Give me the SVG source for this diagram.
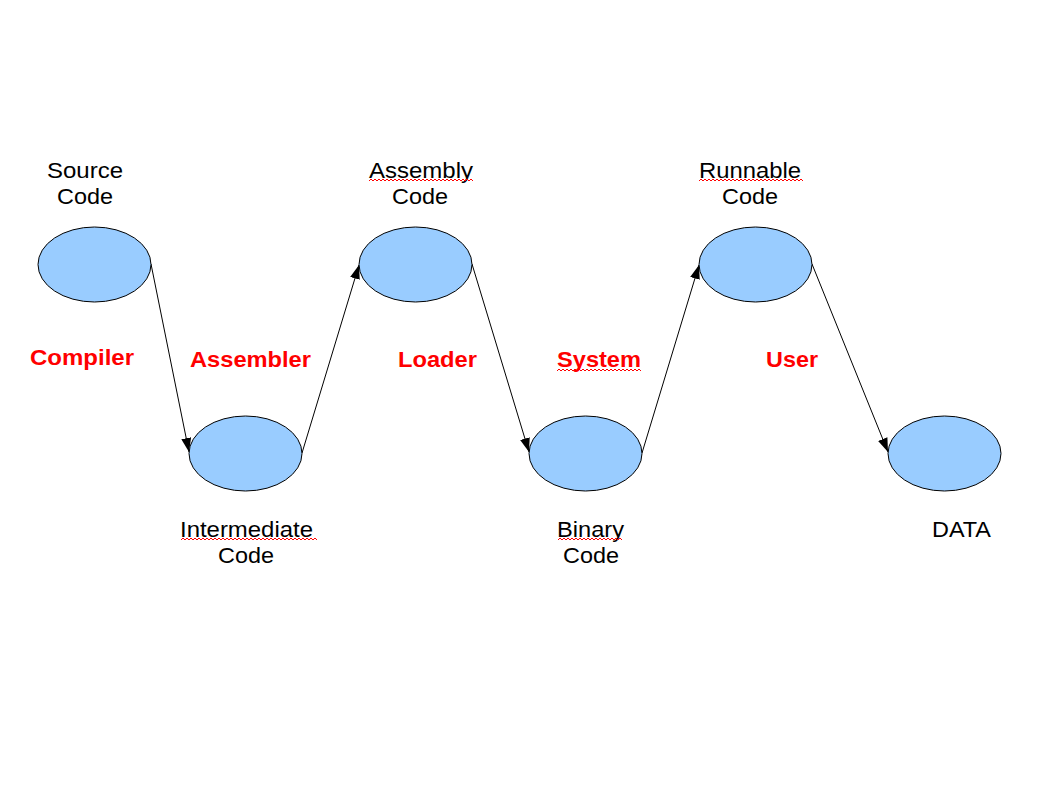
<svg xmlns="http://www.w3.org/2000/svg" width="1058" height="794" viewBox="0 0 1058 794">
<style>
.n{fill:#99ccff;stroke:#000;stroke-width:1}
.t{font-family:"Liberation Sans",Arial,sans-serif;font-size:22px;fill:#000;text-anchor:middle}
.r{font-family:"Liberation Sans",Arial,sans-serif;font-size:22px;font-weight:bold;fill:#ff0000;text-anchor:middle}
.c{stroke:#000;stroke-width:1;fill:none;marker-end:url(#a)}
.w{stroke:#ff0000;stroke-width:1;fill:none}
</style>
<defs>
<marker id="a" viewBox="0 0 14 10" refX="14" refY="5" markerWidth="14" markerHeight="10" markerUnits="userSpaceOnUse" orient="auto">
<path d="M0,0 L14,5 L0,10 Z" fill="#000"/>
</marker>
</defs>
<rect width="1058" height="794" fill="#fff"/>
<g id="connectors">
<line class="c" x1="151" y1="264" x2="189" y2="452"/>
<line class="c" x1="302" y1="453" x2="359" y2="265"/>
<line class="c" x1="472" y1="264" x2="529" y2="452"/>
<line class="c" x1="642" y1="453" x2="699" y2="265"/>
<line class="c" x1="812" y1="264" x2="888" y2="452"/>
</g>
<g id="source">
<ellipse class="n" cx="94.5" cy="264.5" rx="56.5" ry="37.5"/>
<text class="t" x="85" y="178" textLength="76" lengthAdjust="spacingAndGlyphs">Source</text>
<text class="t" x="85" y="204" textLength="56" lengthAdjust="spacingAndGlyphs">Code</text>
</g>
<g id="intermediate">
<ellipse class="n" cx="245.5" cy="453.5" rx="56.5" ry="37.5"/>
<text class="t" x="246.5" y="537" textLength="133" lengthAdjust="spacingAndGlyphs">Intermediate</text>
<text class="t" x="246" y="563" textLength="56" lengthAdjust="spacingAndGlyphs">Code</text>
<path class="w" d="M181,540 l2,-2 l2,2 l2,-2 l2,2 l2,-2 l2,2 l2,-2 l2,2 l2,-2 l2,2 l2,-2 l2,2 l2,-2 l2,2 l2,-2 l2,2 l2,-2 l2,2 l2,-2 l2,2 l2,-2 l2,2 l2,-2 l2,2 l2,-2 l2,2 l2,-2 l2,2 l2,-2 l2,2 l2,-2 l2,2 l2,-2 l2,2 l2,-2 l2,2 l2,-2 l2,2 l2,-2 l2,2 l2,-2 l2,2 l2,-2 l2,2 l2,-2 l2,2 l2,-2 l2,2 l2,-2 l2,2 l2,-2 l2,2 l2,-2 l2,2 l2,-2 l2,2 l2,-2 l2,2 l2,-2 l2,2 l2,-2 l2,2 l2,-2 l2,2 l2,-2 l2,2 l2,-2 l2,2"/>
</g>
<g id="assembly">
<ellipse class="n" cx="415.5" cy="264.5" rx="56.5" ry="37.5"/>
<text class="t" x="421" y="178" textLength="104" lengthAdjust="spacingAndGlyphs">Assembly</text>
<text class="t" x="420" y="204" textLength="56" lengthAdjust="spacingAndGlyphs">Code</text>
<path class="w" d="M369,181 l2,-2 l2,2 l2,-2 l2,2 l2,-2 l2,2 l2,-2 l2,2 l2,-2 l2,2 l2,-2 l2,2 l2,-2 l2,2 l2,-2 l2,2 l2,-2 l2,2 l2,-2 l2,2 l2,-2 l2,2 l2,-2 l2,2 l2,-2 l2,2 l2,-2 l2,2 l2,-2 l2,2 l2,-2 l2,2 l2,-2 l2,2 l2,-2 l2,2 l2,-2 l2,2 l2,-2 l2,2 l2,-2 l2,2 l2,-2 l2,2 l2,-2 l2,2 l2,-2 l2,2 l2,-2 l2,2 l2,-2 l2,2"/>
</g>
<g id="binary">
<ellipse class="n" cx="585.5" cy="453.5" rx="56.5" ry="37.5"/>
<text class="t" x="590.5" y="537" textLength="67" lengthAdjust="spacingAndGlyphs">Binary</text>
<text class="t" x="591" y="563" textLength="56" lengthAdjust="spacingAndGlyphs">Code</text>
<path class="w" d="M558,540 l2,-2 l2,2 l2,-2 l2,2 l2,-2 l2,2 l2,-2 l2,2 l2,-2 l2,2 l2,-2 l2,2 l2,-2 l2,2 l2,-2 l2,2 l2,-2 l2,2 l2,-2 l2,2 l2,-2 l2,2 l2,-2 l2,2 l2,-2 l2,2 l2,-2 l2,2 l2,-2 l2,2 l2,-2 l2,2"/>
</g>
<g id="runnable">
<ellipse class="n" cx="755.5" cy="264.5" rx="56.5" ry="37.5"/>
<text class="t" x="750" y="178" textLength="102" lengthAdjust="spacingAndGlyphs">Runnable</text>
<text class="t" x="750" y="204" textLength="56" lengthAdjust="spacingAndGlyphs">Code</text>
<path class="w" d="M699,181 l2,-2 l2,2 l2,-2 l2,2 l2,-2 l2,2 l2,-2 l2,2 l2,-2 l2,2 l2,-2 l2,2 l2,-2 l2,2 l2,-2 l2,2 l2,-2 l2,2 l2,-2 l2,2 l2,-2 l2,2 l2,-2 l2,2 l2,-2 l2,2 l2,-2 l2,2 l2,-2 l2,2 l2,-2 l2,2 l2,-2 l2,2 l2,-2 l2,2 l2,-2 l2,2 l2,-2 l2,2 l2,-2 l2,2 l2,-2 l2,2 l2,-2 l2,2 l2,-2 l2,2 l2,-2 l2,2 l2,-2 l2,2"/>
</g>
<g id="data">
<ellipse class="n" cx="944.5" cy="453.5" rx="56.5" ry="37.5"/>
<text class="t" x="961.5" y="537" textLength="59" lengthAdjust="spacingAndGlyphs">DATA</text>
</g>
<g id="labels">
<text class="r" x="82" y="365" textLength="104" lengthAdjust="spacingAndGlyphs">Compiler</text>
<text class="r" x="250.5" y="367" textLength="121" lengthAdjust="spacingAndGlyphs">Assembler</text>
<text class="r" x="437.5" y="367" textLength="79" lengthAdjust="spacingAndGlyphs">Loader</text>
<text class="r" x="599" y="367" textLength="84" lengthAdjust="spacingAndGlyphs">System</text>
<path class="w" d="M557,371 l2,-2 l2,2 l2,-2 l2,2 l2,-2 l2,2 l2,-2 l2,2 l2,-2 l2,2 l2,-2 l2,2 l2,-2 l2,2 l2,-2 l2,2 l2,-2 l2,2 l2,-2 l2,2 l2,-2 l2,2 l2,-2 l2,2 l2,-2 l2,2 l2,-2 l2,2 l2,-2 l2,2 l2,-2 l2,2 l2,-2 l2,2 l2,-2 l2,2 l2,-2 l2,2 l2,-2 l2,2 l2,-2 l2,2"/>
<text class="r" x="792" y="367" textLength="52" lengthAdjust="spacingAndGlyphs">User</text>
</g>
</svg>
